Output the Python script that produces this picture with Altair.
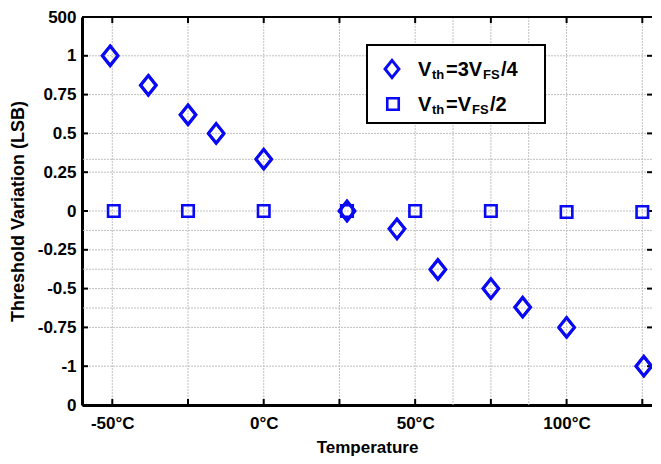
import altair as alt
import pandas as pd

# ---- data ----
diamond_temp = [-50.7, -38.1, -25, -15.7, 0, 27.5, 44, 57.5, 75, 85.5, 100, 125.5]
diamond_var = [1.0, 0.81, 0.62, 0.50, 0.334, 0.0, -0.115, -0.377, -0.50, -0.62, -0.75, -1.0]
square_temp = [-49.5, -25, 0, 27.5, 50, 75, 100, 125]
square_var = [0.0, 0.0, 0.0, 0.0, 0.0, 0.0, -0.006, -0.006]

x_label_values = [-50, 0, 50, 100]
x_tick_values = [-50, -25, 0, 25, 50, 75, 100, 125]
x_grid_values = [-50, -25, 0, 25, 50, 62.5, 75, 87.5, 100, 125]
y_tick_values = [-1.25, -1, -0.75, -0.5, -0.25, 0, 0.25, 0.5, 0.75, 1, 1.25]
y_grid_values = [1, 0.75, 0.5, 0.333, 0.25, 0, -0.125, -0.25, -0.375, -0.5, -0.625, -0.75, -1]

legend_line1 = ["V", "th", "=3V", "FS", "/4"]
legend_line2 = ["V", "th", "=V", "FS", "/2"]

x_title = "Temperature"
y_title = "Threshold Variation (LSB)"

# ---- layout / style ----
W, H = 570, 388
BLUE = "#0a0af5"
FONT = "Liberation Sans"
DIAMOND = "M0,-1L0.8,0L0,1L-0.8,0Z"

xscale = alt.Scale(domain=[-60, 128.2], nice=False, zero=False)
yscale = alt.Scale(domain=[-1.25, 1.25], nice=False, zero=False)

xaxis = alt.Axis(values=x_label_values, labelExpr="datum.value + '°C'", title=x_title,
                 grid=False, ticks=False, domainWidth=3, domainColor="black",
                 labelFont=FONT, labelFontSize=17, labelFontWeight="bold", labelColor="black",
                 labelPadding=10, titleFont=FONT, titleFontSize=17, titleFontWeight="bold",
                 titleColor="black", titlePadding=8, labelFlush=False)
yaxis = alt.Axis(values=y_tick_values,
                 labelExpr="datum.value > 1.2 ? '500' : (datum.value < -1.2 ? '0' : '' + datum.value)",
                 title=y_title, grid=False, ticks=False, domainWidth=3, domainColor="black",
                 labelFont=FONT, labelFontSize=17, labelFontWeight="bold", labelColor="black",
                 labelPadding=6, titleFont=FONT, titleFontSize=18, titleFontWeight="bold",
                 titleColor="black", titlePadding=10, labelFlush=False)

X = alt.X("t:Q", scale=xscale, axis=xaxis)
Y = alt.Y("v:Q", scale=yscale, axis=yaxis)

df_d = pd.DataFrame({"t": diamond_temp, "v": diamond_var})
df_s = pd.DataFrame({"t": square_temp, "v": square_var})
df_gx = pd.DataFrame({"t": x_grid_values})
df_gy = pd.DataFrame({"v": y_grid_values})
df_tx = pd.DataFrame({"t": x_tick_values})
df_ty = pd.DataFrame({"v": y_tick_values})
one = pd.DataFrame({"a": [0]})

grid_style = dict(color="#c0c0c0", strokeWidth=1, strokeDash=[2, 1])
gx = alt.Chart(df_gx).mark_rule(**grid_style).encode(x=X)
gy = alt.Chart(df_gy).mark_rule(**grid_style).encode(y=Y)

tick_style = dict(color="black", strokeWidth=2)
tb = alt.Chart(df_tx).mark_rule(**tick_style).encode(x=X, y=alt.value(H), y2=alt.value(H - 6))
tt = alt.Chart(df_tx).mark_rule(**tick_style).encode(x=X, y=alt.value(0), y2=alt.value(6))
tl = alt.Chart(df_ty).mark_rule(**tick_style).encode(y=Y, x=alt.value(0), x2=alt.value(6))
tr = alt.Chart(df_ty).mark_rule(**tick_style).encode(y=Y, x=alt.value(W - 5), x2=alt.value(W))
top = alt.Chart(one).mark_rule(color="black", strokeWidth=2).encode(
    x=alt.value(0), x2=alt.value(W), y=alt.value(0))

diamonds = alt.Chart(df_d).mark_point(shape=DIAMOND, filled=False, size=380,
                                      strokeWidth=3, color=BLUE, opacity=1).encode(x=X, y=Y)
squares = alt.Chart(df_s).mark_point(shape="square", filled=False, size=132,
                                     strokeWidth=2.6, color=BLUE, opacity=1).encode(x=X, y=Y)

# ---- legend (drawn by hand for subscripts) ----
box = alt.Chart(one).mark_rect(fill="white", stroke="black", strokeWidth=2).encode(
    x=alt.value(285), x2=alt.value(463), y=alt.value(28), y2=alt.value(106))
leg_d = alt.Chart(one).mark_point(shape=DIAMOND, filled=False, size=300, strokeWidth=3,
                                  color=BLUE, opacity=1).encode(x=alt.value(310), y=alt.value(52))
leg_s = alt.Chart(one).mark_point(shape="square", filled=False, size=132, strokeWidth=2.6,
                                  color=BLUE, opacity=1).encode(x=alt.value(311), y=alt.value(87))

def piece(txt, x, y, sub):
    return alt.Chart(one).mark_text(align="left", baseline="alphabetic", font=FONT,
                                    fontWeight="bold", fontSize=13 if sub else 20,
                                    color="black").encode(
        x=alt.value(x), y=alt.value(y + (3 if sub else 0)), text=alt.value(txt))

xs1 = [336, 350, 364, 401, 419]
xs2 = [336, 350, 364, 390, 408]
subs = [False, True, False, True, False]
texts = []
for txt, x, s in zip(legend_line1, xs1, subs):
    texts.append(piece(txt, x, 59, s))
for txt, x, s in zip(legend_line2, xs2, subs):
    texts.append(piece(txt, x, 94, s))

chart = alt.layer(diamonds, gx, gy, tb, tt, tl, tr, top, squares, diamonds,
                  box, leg_d, leg_s, *texts).properties(
    width=W, height=H,
    autosize=alt.AutoSizeParams(type="none"),
    padding={"left": 74, "top": 9, "right": 0, "bottom": 51},
).configure_view(stroke=None).configure(background="white")

chart.save("out.html", embed_options={"renderer": "svg", "actions": False})
